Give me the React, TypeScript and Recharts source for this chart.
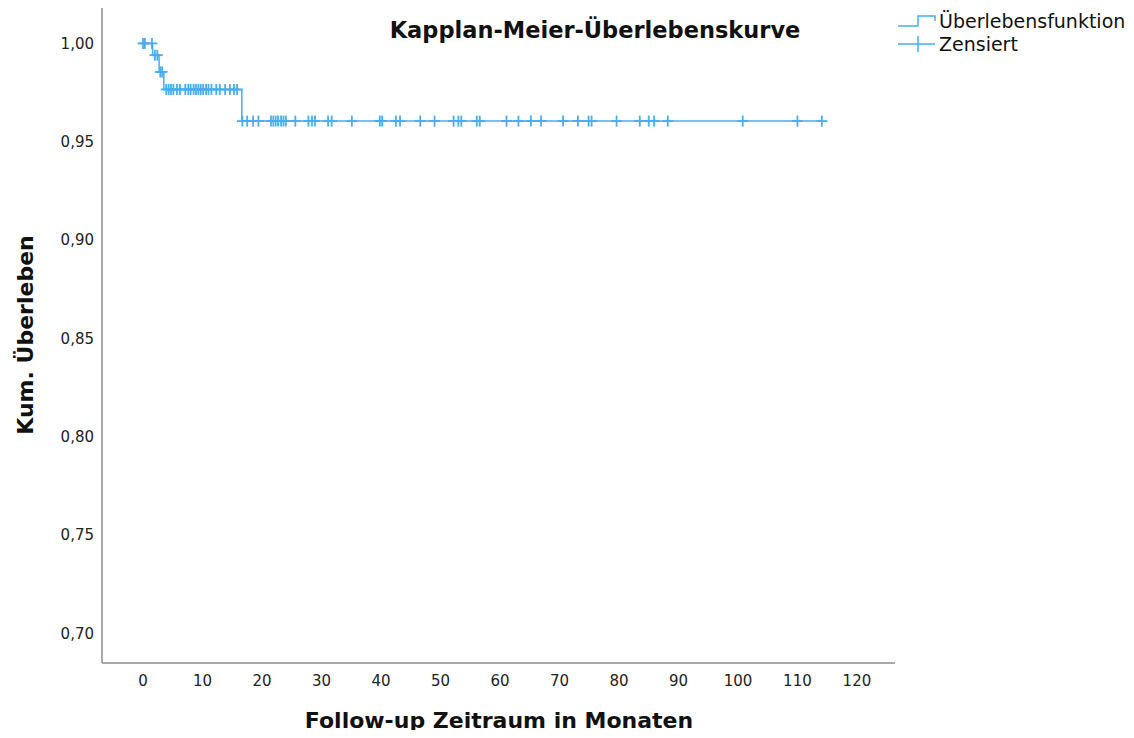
import { ComposedChart, Line, Scatter, XAxis, YAxis } from "recharts";

// Kaplan-Meier step points (months, cumulative survival)
const stepTimes = [0, 1.6, 2.7, 3.5, 16.6, 114.2];
const stepSurvival = [1.0, 0.994, 0.9855, 0.9766, 0.9605, 0.9605];

// censored observations (months)
const censorTimes = [
  0, 0.3, 1.5,
  2.0, 2.4,
  2.9, 3.2,
  3.9, 4.3, 4.7, 5.1, 5.7, 6.2, 7.1, 7.6, 8.0, 8.5, 8.9, 9.3, 9.7, 10.1, 10.6, 11.0, 11.5, 12.3, 12.9, 13.8,
  14.6, 15.3, 15.8,
  16.7, 17.5, 18.5, 19.4, 21.5, 21.9, 22.3, 22.7, 23.2, 23.6, 24.0, 25.6, 27.8, 28.4, 28.9, 31.1, 31.7, 35.1,
  39.8, 40.2, 42.5, 43.2, 46.6, 49.0, 52.2, 53.0, 53.5, 56.1, 56.6, 61.1, 63.1, 65.2, 66.9, 70.6, 73.1, 74.9,
  75.4, 79.6, 83.5, 85.0, 85.9, 88.2, 100.8, 110.0, 114.1,
];

const xTicks = [0, 10, 20, 30, 40, 50, 60, 70, 80, 90, 100, 110, 120];
const yTicks = [0.7, 0.75, 0.8, 0.85, 0.9, 0.95, 1.0];

const BLUE = "#45AEF3";
const FONT = "'DejaVu Sans', sans-serif";

const survivalAt = (t: number) => {
  let s = stepSurvival[0];
  stepTimes.forEach((st, i) => {
    if (st <= t) s = stepSurvival[i];
  });
  return s;
};

const lineData = stepTimes.map((t, i) => ({ t, s: stepSurvival[i] }));
const censorData = censorTimes.map((t) => ({ t, s: survivalAt(t) }));

const Cross = (props: any) => {
  const { cx, cy } = props;
  if (cx == null || cy == null) return null;
  return (
    <g stroke={BLUE} strokeWidth={1.8}>
      <line x1={cx - 5.5} x2={cx + 5.5} y1={cy} y2={cy} />
      <line x1={cx} x2={cx} y1={cy - 5.5} y2={cy + 5.5} />
    </g>
  );
};

const App = () => {
  return (
    <div style={{ position: "relative", width: 1134, height: 738, margin: -8, background: "#fff", fontFamily: FONT }}>
      <ComposedChart width={1134} height={738} margin={{ top: 8, right: 239, bottom: 0, left: 0 }}>
        <XAxis
          dataKey="t"
          type="number"
          domain={[-6.9, 126.4]}
          ticks={xTicks}
          allowDataOverflow
          height={75}
          tickSize={0}
          tickMargin={12}
          tickLine={false}
          axisLine={{ stroke: "#8c8c8c", strokeWidth: 1.5 }}
          tick={{ fill: "#222", fontSize: 15, fontFamily: FONT }}
        />
        <YAxis
          type="number"
          domain={[0.685, 1.018]}
          ticks={yTicks}
          allowDataOverflow
          width={102}
          tickSize={0}
          tickMargin={8}
          tickLine={false}
          axisLine={{ stroke: "#8c8c8c", strokeWidth: 1.5 }}
          tick={{ fill: "#222", fontSize: 15, fontFamily: FONT }}
          tickFormatter={(v: number) => v.toFixed(2).replace(".", ",")}
        />
        <Line
          data={lineData}
          dataKey="s"
          type="stepAfter"
          stroke={BLUE}
          strokeWidth={1.5}
          dot={false}
          activeDot={false}
          isAnimationActive={false}
        />
        <Scatter data={censorData} dataKey="s" shape={<Cross />} isAnimationActive={false} />
      </ComposedChart>

      <div
        style={{
          position: "absolute",
          left: 595,
          top: 30,
          transform: "translate(-50%, -50%)",
          fontSize: 22.5,
          fontWeight: "bold",
          whiteSpace: "nowrap",
          color: "#111",
        }}
      >
        Kapplan-Meier-Überlebenskurve
      </div>

      <div
        style={{
          position: "absolute",
          left: 25,
          top: 335,
          transform: "translate(-50%, -50%) rotate(-90deg)",
          fontSize: 22,
          fontWeight: "bold",
          whiteSpace: "nowrap",
          color: "#111",
        }}
      >
        Kum. Überleben
      </div>

      <div
        style={{
          position: "absolute",
          left: 499,
          top: 720,
          transform: "translate(-50%, -50%)",
          fontSize: 22,
          fontWeight: "bold",
          whiteSpace: "nowrap",
          color: "#111",
        }}
      >
        Follow-up Zeitraum in Monaten
      </div>

      <div style={{ position: "absolute", left: 898, top: 10, fontSize: 19, color: "#111", lineHeight: "23px" }}>
        <div style={{ display: "flex", alignItems: "center" }}>
          <svg width={41} height={23}>
            <polyline points="0,16 20,16 20,6 37,6 37,11" fill="none" stroke={BLUE} strokeWidth={1.5} />
          </svg>
          <span>Überlebensfunktion</span>
        </div>
        <div style={{ display: "flex", alignItems: "center" }}>
          <svg width={41} height={23}>
            <line x1={0} x2={37} y1={11} y2={11} stroke={BLUE} strokeWidth={1.5} />
            <line x1={20} x2={20} y1={3} y2={19} stroke={BLUE} strokeWidth={1.5} />
          </svg>
          <span>Zensiert</span>
        </div>
      </div>
    </div>
  );
};

export default App;
